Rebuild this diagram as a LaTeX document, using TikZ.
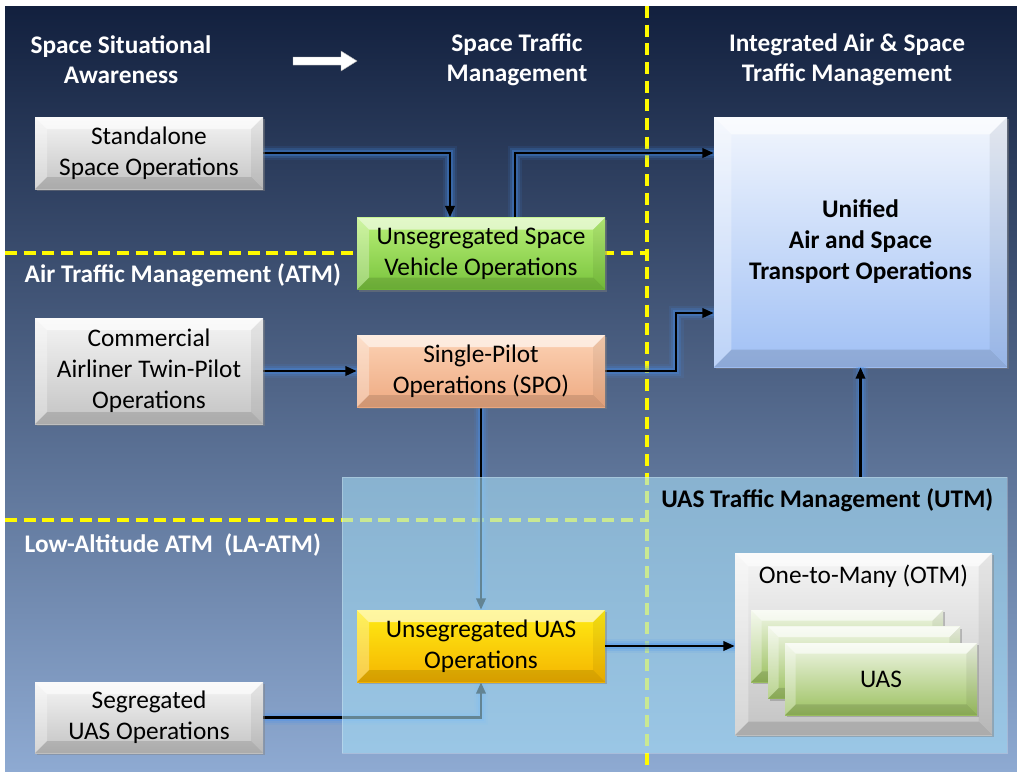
\documentclass[tikz,border=0pt]{standalone}
\usepackage{fontspec}
\setmainfont{Carlito}
\usetikzlibrary{arrows.meta,calc,shadows,shadings}
\pgfdeclarelayer{back}
\pgfdeclarelayer{conn}
\pgfdeclarelayer{over}
\pgfdeclarelayer{front}
\pgfsetlayers{back,conn,main,over,front}

\definecolor{bgtop}{RGB}{18,32,62}
\definecolor{bgmid}{RGB}{106,131,170}
\definecolor{bgbot}{RGB}{142,170,210}
\definecolor{glowc}{RGB}{70,145,240}
\definecolor{dashy}{RGB}{255,250,0}
\definecolor{grayT}{RGB}{245,245,245}
\definecolor{grayB}{RGB}{195,195,195}
\definecolor{greenT}{RGB}{185,240,120}
\definecolor{greenB}{RGB}{120,195,60}
\definecolor{peachT}{RGB}{252,210,180}
\definecolor{peachB}{RGB}{238,170,130}
\definecolor{yelT}{RGB}{255,236,20}
\definecolor{yelB}{RGB}{245,180,0}
\definecolor{bluT}{RGB}{242,246,253}
\definecolor{bluB}{RGB}{160,192,245}
\definecolor{uasT}{RGB}{240,246,230}
\definecolor{uasB}{RGB}{155,192,95}
\definecolor{utmc}{RGB}{165,220,245}

\tikzset{
  bevel/.style={rectangle, inner sep=0pt, align=center,
    font=\fontsize{19}{23.25}\selectfont, text=black,
    drop shadow={opacity=0.45,shadow xshift=1.5pt,shadow yshift=-1.5pt},
    path picture={
      \coordinate (pnw) at (path picture bounding box.north west);
      \coordinate (pne) at (path picture bounding box.north east);
      \coordinate (psw) at (path picture bounding box.south west);
      \coordinate (pse) at (path picture bounding box.south east);
      \fill[white,opacity=0.6] (pnw) -- (pne) -- ($(pne)+(-#1,-#1)$) -- ($(pnw)+(#1,-#1)$) -- cycle;
      \fill[white,opacity=0.3] (pnw) -- (psw) -- ($(psw)+(#1,#1)$) -- ($(pnw)+(#1,-#1)$) -- cycle;
      \fill[black,opacity=0.12] (psw) -- (pse) -- ($(pse)+(-#1,#1)$) -- ($(psw)+(#1,#1)$) -- cycle;
      \fill[black,opacity=0.06] (pne) -- (pse) -- ($(pse)+(-#1,#1)$) -- ($(pne)+(-#1,-#1)$) -- cycle;
    }},
  bevel/.default=9pt,
  graybox/.style={bevel, top color=grayT, bottom color=grayB, minimum width=171pt},
  colbox/.style={bevel, minimum width=186pt, minimum height=54pt},
  uasbox/.style={bevel=8pt, top color=uasT, bottom color=uasB, minimum width=144pt, minimum height=54pt},
  head/.style={align=center, text=white, font=\bfseries\fontsize{19}{22.5}\selectfont},
  sect/.style={anchor=west, text=white, font=\bfseries\fontsize{19}{20}\selectfont},
  arr/.style={draw=black, line width=1.8pt, -{Triangle[length=8.5pt,width=7pt]},
    preaction={draw=glowc, line width=11pt, draw opacity=0.1, arrows=-},
    preaction={draw=glowc, line width=7.5pt, draw opacity=0.18, arrows=-},
    preaction={draw=glowc, line width=4.5pt, draw opacity=0.3, arrows=-}},
  ydash/.style={draw=dashy, line width=2.5pt, dash pattern=on 9pt off 5pt},
}

\begin{document}
\begin{tikzpicture}[x=0.75pt,y=-0.75pt]
\useasboundingbox (0,0) rectangle (1017,771);

\begin{pgfonlayer}{back}
\fill[white] (0,0) rectangle (1017,771);
\shade[top color=bgtop, middle color=bgmid, bottom color=bgbot] (5,6) rectangle (1017,771);
\draw[ydash] (5,253) -- (647,253);
\draw[ydash] (5,520) -- (647,520);
\draw[ydash] (647,6) -- (647,771);
\fill[white, draw=gray!60, line width=0.3pt] (293,57) -- (341,57) -- (341,51) -- (357,61) -- (341,71) -- (341,65) -- (293,65) -- cycle;
\end{pgfonlayer}

% headers
\node[head] (hssa) at (121,60) {Space Situational\\Awareness};
\node[head] (hstm) at (517,60) {Space Traffic\\Management};
\node[head] (hias) at (847,60) {Integrated Air \& Space\\Traffic Management};
\node[sect] (latm) at (20,275) {Air Traffic Management (ATM)};
\node[sect] (llaatm) at (20,545) {Low-Altitude ATM~ (LA-ATM)};

% main boxes
\node[graybox, minimum height=54pt] (sso) at (149,153) {Standalone\\Space Operations};
\node[colbox, top color=greenT, bottom color=greenB] (usv) at (481,253.5) {Unsegregated Space\\Vehicle Operations};
\node[bevel=13pt, top color=bluT, bottom color=bluB, minimum width=219.75pt, minimum height=187.5pt,
      font=\bfseries\fontsize{19}{23.25}\selectfont] (uni) at (860.5,242) {Unified\\Air and Space\\Transport Operations};
\node[graybox, minimum height=79.5pt] (com) at (149,371) {Commercial\\Airliner Twin-Pilot\\Operations};
\node[colbox, top color=peachT, bottom color=peachB] (spo) at (481,371) {Single-Pilot\\Operations (SPO)};
\node[graybox, minimum height=53.25pt] (seg) at (149,717.5) {Segregated\\UAS Operations};

\begin{pgfonlayer}{over}
\node[fill=utmc, fill opacity=0.6, draw=white, draw opacity=0.25, line width=0.6pt,
      minimum width=498.75pt, minimum height=207pt, inner sep=0pt] (utm) at (674.5,615) {};
\end{pgfonlayer}

\begin{pgfonlayer}{front}
\node[anchor=east, text=black, font=\bfseries\fontsize{19}{20}\selectfont] (lutm) at (998,500) {UAS Traffic Management (UTM)};
\node[colbox, top color=yelT, bottom color=yelB] (uasop) at (481,646) {Unsegregated UAS\\Operations};
\node[bevel=10pt, top color=grayT, bottom color=grayB, minimum width=192.75pt, minimum height=136.5pt] (otm) at (863.5,644) {};
\node[text=black, font=\fontsize{19}{20}\selectfont] (lotm) at (863.5,576) {One-to-Many (OTM)};
\node[uasbox] (uas1) at (847,646) {};
\node[uasbox] (uas2) at (864,662.5) {};
\node[uasbox] (uas3) at (881,679) {UAS};
\draw[arr] (uasop.east) -- (uasop.east -| otm.west);
\draw[arr] (uni.south |- utm.north) -- (uni.south);
\end{pgfonlayer}

\begin{pgfonlayer}{conn}
\draw[arr] (sso.east) -| ([xshift=-23.25pt]usv.north);
\draw[arr] ([xshift=25.5pt]usv.north) |- ([yshift=66.75pt]uni.west);
\draw[arr] (com.east) -- (spo.west);
\draw[arr] (spo.east) -- ++(71,0) |- ([yshift=-53.25pt]uni.west);
\draw[arr] (spo.south) -- (uasop.north);
\draw[arr] (seg.east) -| (uasop.south);
\end{pgfonlayer}
\end{tikzpicture}
\end{document}
